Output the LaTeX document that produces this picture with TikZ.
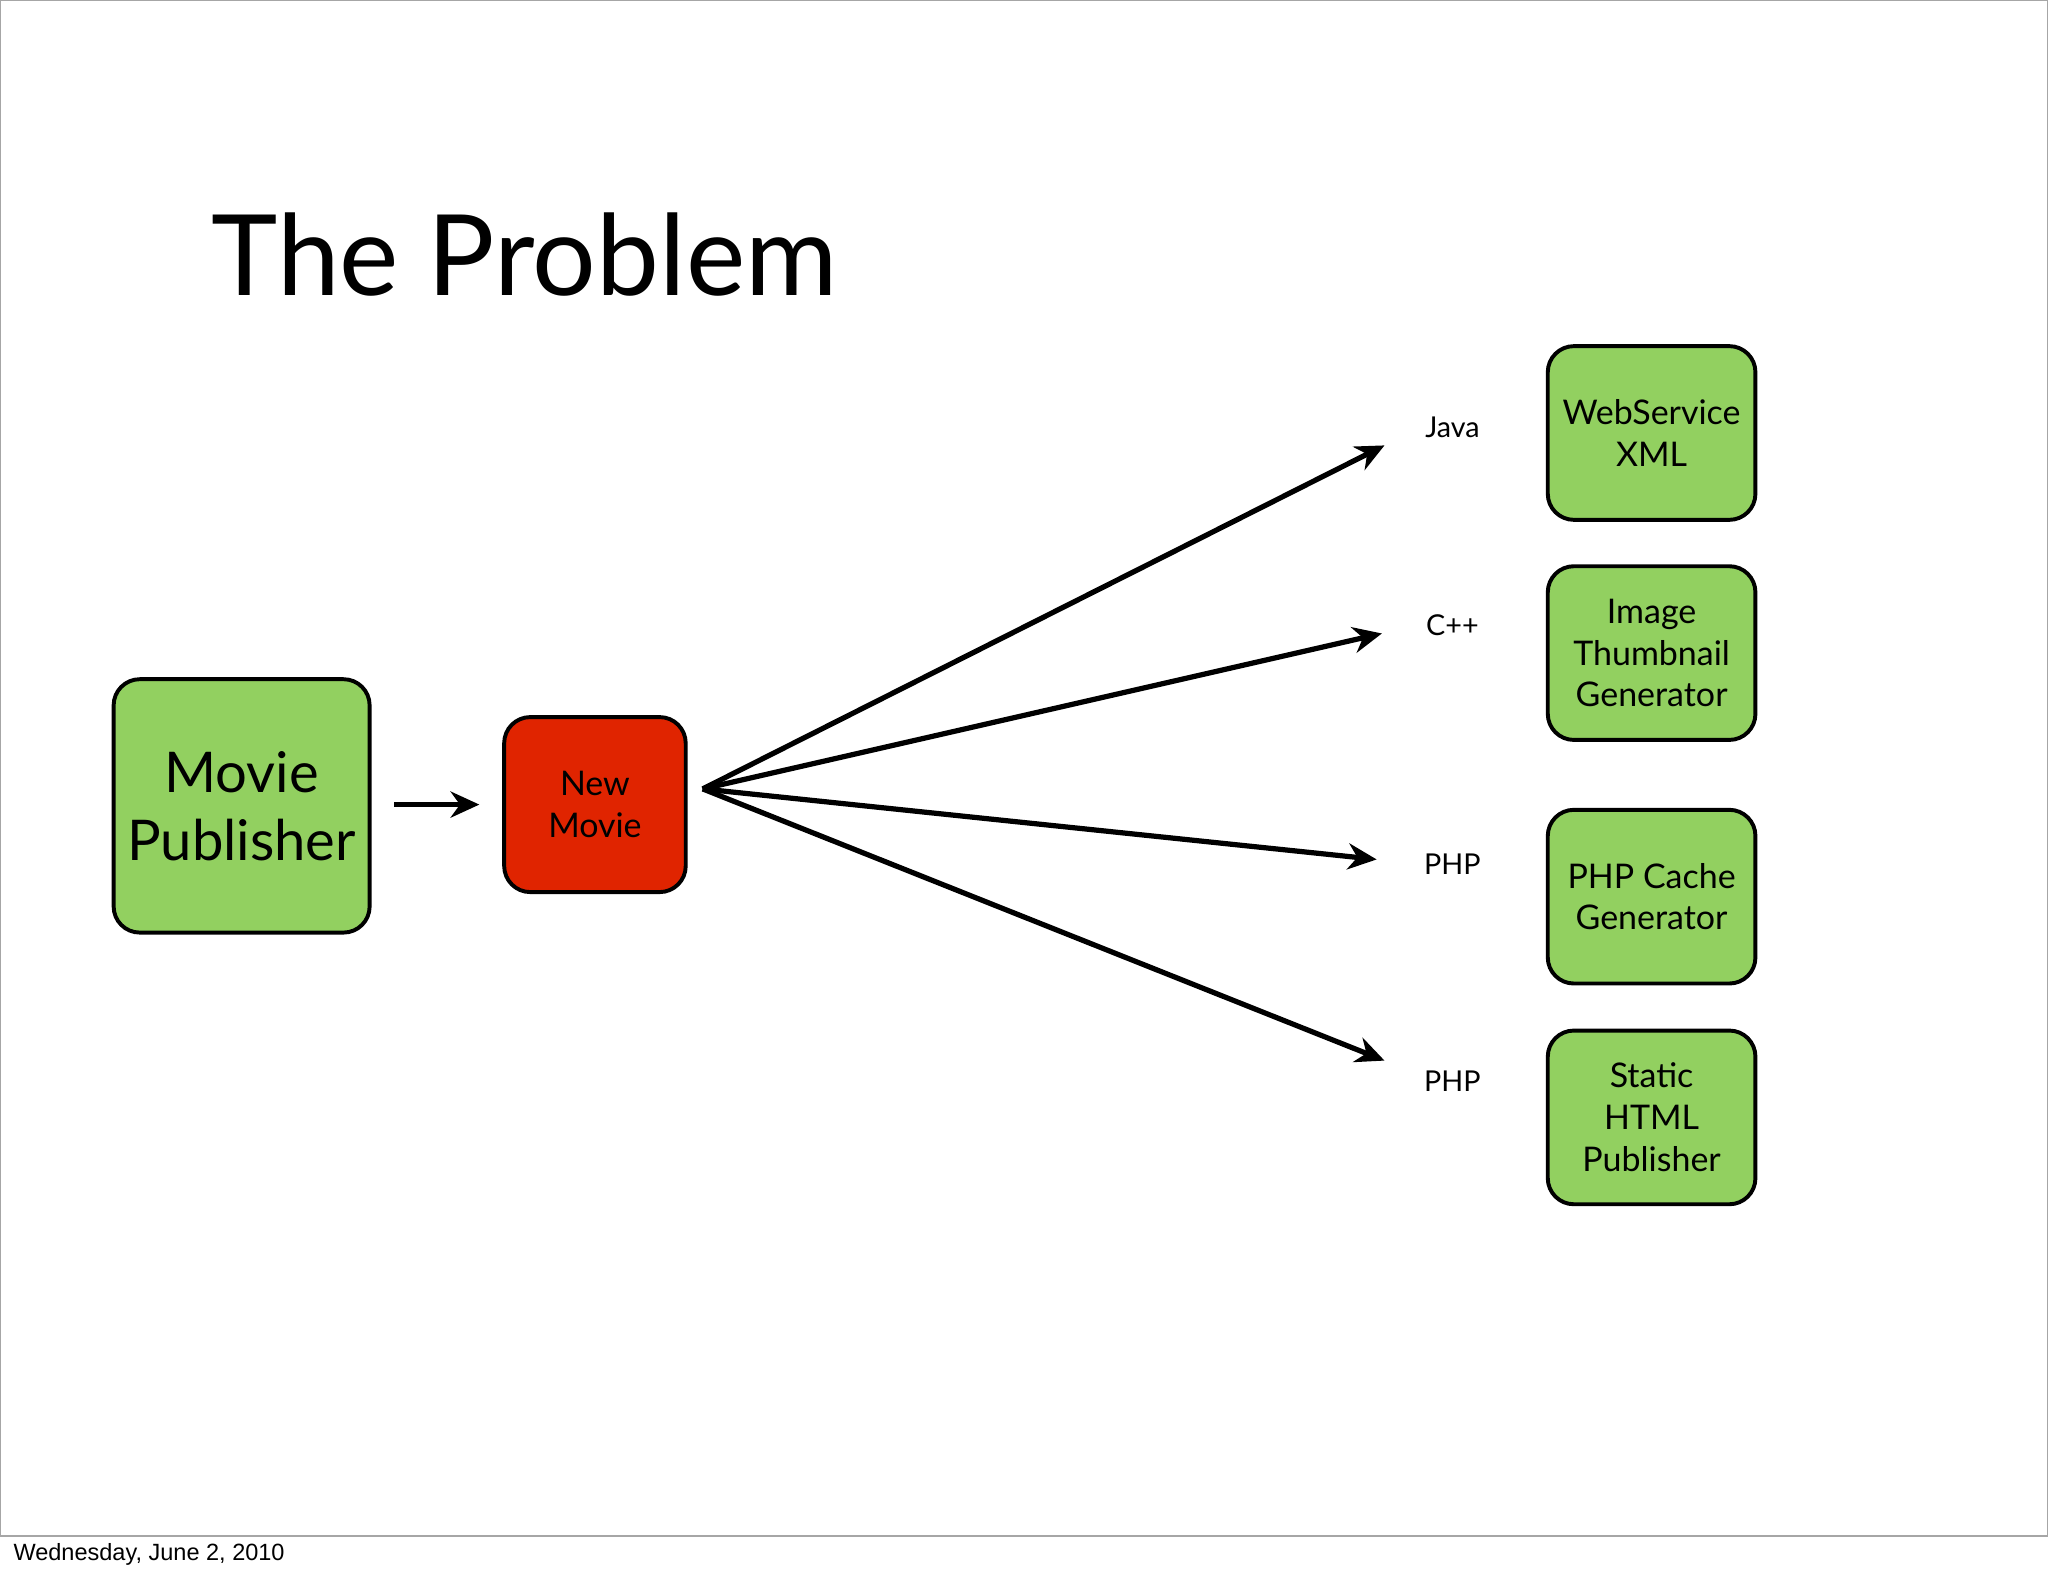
\documentclass[tikz,border=0pt]{standalone}
\usepackage{fontspec}
\setmainfont{Lato}
\newfontfamily\foot{Liberation Sans}
\usetikzlibrary{arrows.meta}
\definecolor{gbox}{RGB}{146,208,96}
\definecolor{rbox}{RGB}{224,36,0}
\tikzset{
 box/.style={draw=black,line width=1.5pt,rounded corners=10pt,fill=gbox,align=center,inner sep=0pt},
 arr/.style={line width=2pt,-{Stealth[length=11pt,width=10pt]}},
 lab/.style={font=\fontsize{11}{13}\selectfont}
}
\begin{document}
\begin{tikzpicture}[x=0.5pt,y=-0.5pt]
\useasboundingbox (0,0) rectangle (1568,1206);
\draw[gray!70,line width=0.6pt] (0,0) rectangle (1568,1176);
\node[anchor=west,inner sep=0pt,font=\foot\fontsize{9}{11}\selectfont] (foot) at (10,1190) {Wednesday, June 2, 2010};
\node[anchor=west,font=\fontsize{43}{50}\selectfont] (title) at (155,195) {The Problem};
\node[box,minimum width=98pt,minimum height=97pt,font=\fontsize{21.5}{26}\selectfont] (mp) at (185,617) {Movie\\Publisher};
\node[box,fill=rbox,minimum width=69.5pt,minimum height=67pt,font=\fontsize{13}{16}\selectfont] (nm) at (455.5,616) {New\\Movie};
\tikzset{rb/.style={box,minimum width=79.5pt,minimum height=66.5pt,font=\fontsize{13}{16}\selectfont}}
\node[rb] (ws) at (1264.5,331.5) {WebService\\XML};
\node[rb] (it) at (1264.5,500) {Image\\Thumbnail\\Generator};
\node[rb] (pc) at (1264.5,686.5) {PHP Cache\\Generator};
\node[rb] (sh) at (1264.5,855.5) {Static\\HTML\\Publisher};
\node[lab] (l1) at (1112,327) {Java};
\node[lab] (l2) at (1112,479) {C++};
\node[lab] (l3) at (1112,662) {PHP};
\node[lab] (l4) at (1112,828) {PHP};
\coordinate (s) at (538,604);
\coordinate (a0) at (302,616);
\coordinate (b0) at (367,616);
\coordinate (e1) at (1060,341);
\coordinate (e2) at (1058,485);
\coordinate (e3) at (1054,658);
\coordinate (e4) at (1060,812);
\draw[arr] (a0) -- (b0);
\foreach \e in {e1,e2,e3,e4} \draw[arr] (s) -- (\e);
\end{tikzpicture}
\end{document}
